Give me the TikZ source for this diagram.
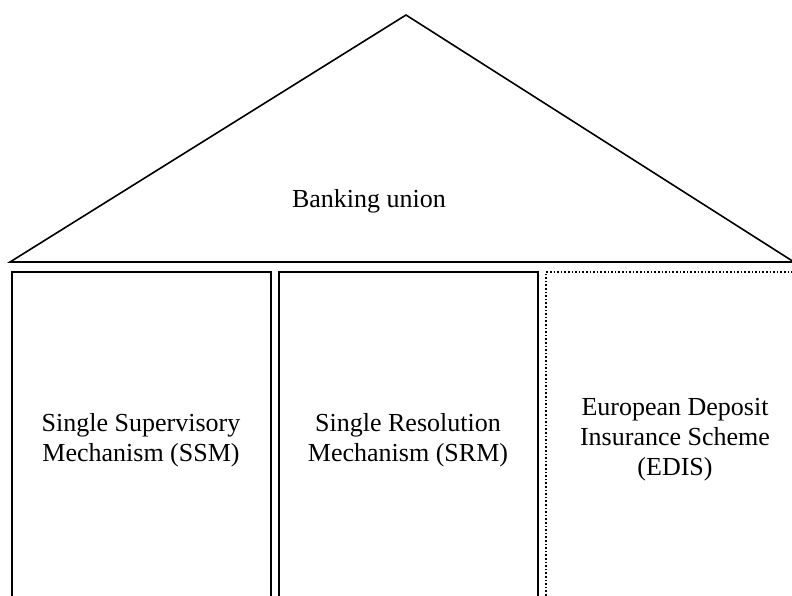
\documentclass[tikz,border=0pt]{standalone}
\usepackage{fontspec}
\setmainfont{Liberation Serif}
\newcommand{\pillar}[3]{
  \draw[#3] (#1, 610) -- (#1, 272) -- (#2, 272) -- (#2, 610);
}

\begin{document}
\begin{tikzpicture}[x=.5pt, y=-.5pt, line width=.8pt,
    label/.style={align=center, font=\fontsize{13}{15}\selectfont, inner sep=0}]
  \useasboundingbox (0, 0) rectangle (792, 595);
  % roof
  \coordinate (apex) at (406, 15);
  \coordinate (eaveL) at (10, 262);
  \coordinate (eaveR) at (794, 262);
  \draw (eaveL) -- (apex) -- (eaveR) -- cycle;
  \node[label] (union) at (369, 201) {Banking union};
  % pillars
  \pillar{12}{271}{};
  \pillar{279}{538}{};
  \pillar{546}{800}{dash pattern=on .8pt off 1pt};
  \node[label] (ssm) at (141, 440) {Single Supervisory\\Mechanism (SSM)};
  \node[label] (srm) at (408, 440) {Single Resolution\\Mechanism (SRM)};
  \node[label] (edis) at (675, 440) {European Deposit\\Insurance Scheme\\(EDIS)};
\end{tikzpicture}
\end{document}
